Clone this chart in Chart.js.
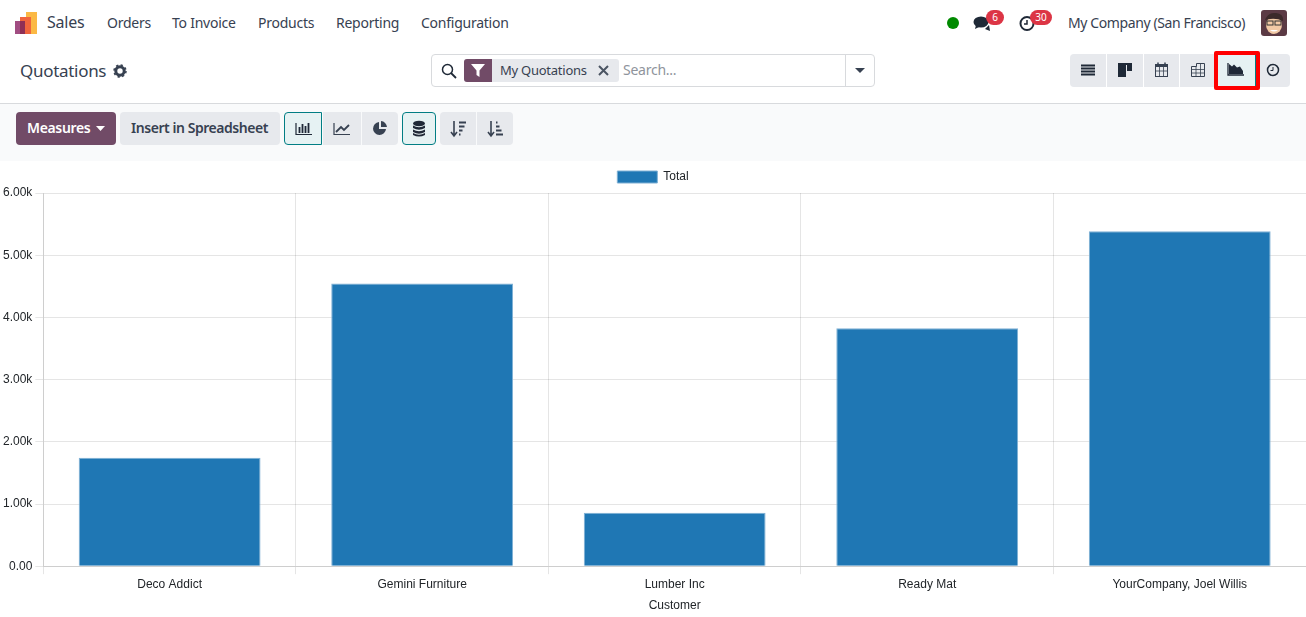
<!DOCTYPE html>
<html>
<head>
<meta charset="utf-8">
<title>Quotations</title>
<script src="https://cdn.jsdelivr.net/npm/chart.js@4"></script>
<style>
  html, body { margin: 0; padding: 0; background: #fff; }
  body { width: 1306px; height: 617px; position: relative; overflow: hidden; font-family: "Noto Sans", sans-serif; font-size: 14px; color: #374151; }
  .txt { position: absolute; white-space: nowrap; line-height: 20px; letter-spacing: -0.25px; }
  .box { position: absolute; }
  .btn { position: absolute; background: #e7e9ed; box-sizing: border-box; }
  .btn svg, .box svg { position: absolute; left: 0; top: 0; }
  #toolbar { position: absolute; left: 0; top: 103px; width: 1306px; height: 58px; background: #f9fafb; border-top: 1px solid #d8dadd; box-sizing: border-box; }
  #chartWrap { position: absolute; left: 0; top: 161px; width: 1306px; height: 456px; }
  .badge { position: absolute; background: #dc3545; color: #fff; font-size: 10px; line-height: 15px; height: 15px; border-radius: 8px; text-align: center; }
  .on { background: #e6f2f3; border: 1px solid #017e84; }
</style>
</head>
<body>

<!-- navbar -->
<svg class="box" style="left:14px;top:11px" width="24" height="24">
  <rect x="12" y="1" width="11" height="22" fill="#fbb945"/>
  <rect x="6" y="6" width="11" height="17" fill="#f0653d"/>
  <rect x="1" y="10" width="10" height="13" fill="#a14d82"/>
  <rect x="6" y="10" width="5" height="13" fill="#8f2f55"/>
</svg>
<div class="txt" style="left:47px;top:12px;font-size:16px;">Sales</div>
<div class="txt" style="left:107px;top:13px;">Orders</div>
<div class="txt" style="left:172px;top:13px;">To Invoice</div>
<div class="txt" style="left:258px;top:13px;">Products</div>
<div class="txt" style="left:336px;top:13px;">Reporting</div>
<div class="txt" style="left:421px;top:13px;">Configuration</div>

<div class="box" style="left:947px;top:17px;width:12px;height:12px;border-radius:6px;background:#008a00"></div>
<svg class="box" style="left:973px;top:15px" width="20" height="17">
  <ellipse cx="8" cy="7" rx="7.5" ry="5.5" fill="#1f2937"/>
  <path d="M3 10 L2 14 L8 11Z" fill="#1f2937"/>
  <path d="M12 14 L17 16 L16 10Z" fill="#1f2937"/>
</svg>
<div class="badge" style="left:986px;top:10px;width:18px;">6</div>
<svg class="box" style="left:1019px;top:15px" width="18" height="17">
  <circle cx="8" cy="8.500" r="6.500" fill="none" stroke="#1f2937" stroke-width="2"/>
  <path d="M8 5 V9 H5" fill="none" stroke="#1f2937" stroke-width="1.500"/>
</svg>
<div class="badge" style="left:1030px;top:10px;width:22px;">30</div>
<div class="txt" style="left:1068px;top:13px;letter-spacing:-0.4px;">My Company (San Francisco)</div>
<svg class="box" style="left:1261px;top:10px" width="26" height="26">
  <rect width="26" height="26" rx="3" fill="#5b3a44"/>
  <ellipse cx="13" cy="15" rx="8" ry="9" fill="#f2c9a5"/>
  <path d="M4 10 Q7 2 15 3 Q23 4 22 11 Q14 7 4 10Z" fill="#3c2a2a"/>
  <rect x="6" y="11" width="6" height="4" fill="none" stroke="#333"/>
  <rect x="14" y="11" width="6" height="4" fill="none" stroke="#333"/>
  <path d="M9 20 Q13 23 17 20Z" fill="#fff"/>
</svg>

<!-- control panel -->
<div class="txt" style="left:20px;top:61px;font-size:17px;letter-spacing:-0.3px;">Quotations</div>
<svg class="box" style="left:113px;top:64px" width="14" height="14">
  <circle cx="7" cy="7" r="4.200" fill="none" stroke="#374151" stroke-width="3"/>
  <circle cx="7" cy="7" r="6" fill="none" stroke="#374151" stroke-width="1.500" stroke-dasharray="2.300 2.400"/>
</svg>

<div class="box" style="left:431px;top:54px;width:444px;height:33px;border:1px solid #d8dadd;border-radius:4px;box-sizing:border-box;"></div>
<div class="box" style="left:845px;top:55px;width:1px;height:31px;background:#d8dadd;"></div>
<svg class="box" style="left:441px;top:63px" width="16" height="16">
  <circle cx="6.500" cy="6.500" r="5" fill="none" stroke="#1f2937" stroke-width="1.500"/>
  <path d="M10 10 L15 15" stroke="#1f2937" stroke-width="1.800"/>
</svg>
<div class="box" style="left:464px;top:59px;width:155px;height:23px;background:#e7e9ed;border-radius:3px;"></div>
<div class="box" style="left:464px;top:59px;width:28px;height:23px;background:#714b67;border-radius:3px 0 0 3px;"></div>
<svg class="box" style="left:471px;top:64px" width="14" height="13">
  <path d="M0 0 H14 L8.500 6.500 V13 L5.500 11 V6.500Z" fill="#fff"/>
</svg>
<div class="txt" style="left:500px;top:60px;font-size:13px;">My Quotations</div>
<svg class="box" style="left:598px;top:65px" width="11" height="11">
  <path d="M1 1 L10 10 M10 1 L1 10" stroke="#4b5563" stroke-width="2"/>
</svg>
<div class="txt" style="left:623px;top:60px;color:#8f949c;">Search...</div>
<svg class="box" style="left:855px;top:68px" width="10" height="6"><path d="M0 0 H10 L5 5Z" fill="#374151"/></svg>

<!-- view switcher -->
<div class="btn" style="left:1070px;top:54px;width:36px;height:33px;border-radius:4px 0 0 4px;">
  <svg width="36" height="33"><path d="M11 11.500 H25 M11 14.500 H25 M11 17.500 H25 M11 20.500 H25" stroke="#1f2937" stroke-width="2"/></svg>
</div>
<div class="btn" style="left:1107px;top:54px;width:36px;height:33px;">
  <svg width="36" height="33"><rect x="11" y="9" width="14" height="2" fill="#1f2937"/><rect x="11" y="11" width="8" height="12" fill="#1f2937"/><rect x="20" y="11" width="5" height="6" fill="#1f2937"/></svg>
</div>
<div class="btn" style="left:1144px;top:54px;width:35px;height:33px;">
  <svg width="35" height="33"><rect x="11.500" y="10.500" width="12" height="12" fill="none" stroke="#374151"/><rect x="11" y="10" width="13" height="3" fill="#374151"/><path d="M14 8.500 V12 M21 8.500 V12" stroke="#374151" stroke-width="1.500"/><path d="M11.500 17 H23.500 M15.500 13 V22 M19.500 13 V22" stroke="#374151" stroke-width="0.800"/></svg>
</div>
<div class="btn" style="left:1180px;top:54px;width:35px;height:33px;">
  <svg width="35" height="33"><path d="M11.500 22.500 V12.500 H16.500 V9.500 H24.500 V22.500Z" fill="none" stroke="#374151"/><path d="M11.500 15.500 H24.500 M11.500 19 H24.500 M16 12.500 V22.500 M20.500 9.500 V22.500" stroke="#374151" stroke-width="0.800"/></svg>
</div>
<div class="btn on" style="left:1216px;top:54px;width:40px;height:33px;border-width:0 1px 0 0;">
  <svg width="40" height="33"><path d="M13 20 V10 L16 12.500 L18 10.500 L21 13.500 L24 12.500 L27 17 V20Z" fill="#1f2937"/><path d="M12 9 V21 H28" fill="none" stroke="#1f2937" stroke-width="1.300"/></svg>
</div>
<div class="btn" style="left:1256px;top:54px;width:34px;height:33px;border-radius:0 4px 4px 0;">
  <svg width="34" height="33"><circle cx="17" cy="16" r="5.500" fill="none" stroke="#1f2937" stroke-width="1.500"/><path d="M17 13 V16.500 H14.500" fill="none" stroke="#1f2937"/></svg>
</div>
<div class="box" style="left:1214px;top:51px;width:46px;height:39px;border:4px solid #f00;border-radius:2px;box-sizing:border-box;"></div>

<!-- toolbar -->
<div id="toolbar"></div>
<div class="btn" style="left:16px;top:112px;width:100px;height:33px;background:#714b67;border-radius:4px;"></div>
<div class="txt" style="left:27px;top:118px;color:#fff;font-weight:600;letter-spacing:-0.35px;">Measures</div>
<svg class="box" style="left:96px;top:126px" width="10" height="6"><path d="M0 0 H9 L4.500 5Z" fill="#fff"/></svg>
<div class="btn" style="left:120px;top:112px;width:160px;height:33px;border-radius:4px;"></div>
<div class="txt" style="left:131px;top:118px;font-weight:600;letter-spacing:-0.45px;">Insert in Spreadsheet</div>

<div class="btn on" style="left:284px;top:112px;width:38px;height:33px;border-radius:4px 0 0 4px;">
  <svg width="36" height="31"><path d="M11 10 V21.500 H27" fill="none" stroke="#1f2937" stroke-width="1.200"/><path d="M14.500 14 V20 M17.500 11 V20 M20.500 13 V20 M23.500 10 V20" stroke="#1f2937" stroke-width="1.800"/></svg>
</div>
<div class="btn" style="left:323px;top:112px;width:38px;height:33px;">
  <svg width="38" height="33"><path d="M11 11 V22.500 H27" fill="none" stroke="#374151" stroke-width="1.200"/><path d="M13 20 L18 15 L21 18 L26 13" fill="none" stroke="#374151" stroke-width="1.800"/></svg>
</div>
<div class="btn" style="left:362px;top:112px;width:36px;height:33px;border-radius:0 4px 4px 0;">
  <svg width="36" height="33"><path d="M17 10 A6.500 6.500 0 1 0 24 17 H17Z" fill="#374151"/><path d="M19 9 A6.500 6.500 0 0 1 25 15 H19Z" fill="#374151"/></svg>
</div>
<div class="btn on" style="left:402px;top:112px;width:34px;height:33px;border-radius:4px;">
  <svg width="32" height="31"><ellipse cx="16" cy="10.500" rx="6" ry="2.800" fill="#1f2937"/><path d="M10 12.500 V15 Q16 18.500 22 15 V12.500 Q16 16 10 12.500Z M10 16.500 V19 Q16 22.500 22 19 V16.500 Q16 20 10 16.500Z M10 20 V22 Q16 25 22 22 V20 Q16 23.500 10 20Z" fill="#1f2937"/></svg>
</div>
<div class="btn" style="left:440px;top:112px;width:36px;height:33px;border-radius:4px 0 0 4px;">
  <svg width="36" height="33"><path d="M14 9 V23 M11 20 L14 24 L17 20" fill="none" stroke="#374151" stroke-width="1.600"/><path d="M19 10.500 H26 M19 14.500 H24.500 M19 18.500 H22.500 M19 22.500 H20.500" stroke="#374151" stroke-width="1.800"/></svg>
</div>
<div class="btn" style="left:477px;top:112px;width:36px;height:33px;border-radius:0 4px 4px 0;">
  <svg width="36" height="33"><path d="M14 9 V23 M11 20 L14 24 L17 20" fill="none" stroke="#374151" stroke-width="1.600"/><path d="M19 10.500 H20.500 M19 14.500 H22.500 M19 18.500 H24.500 M19 22.500 H26" stroke="#374151" stroke-width="1.800"/></svg>
</div>

<!-- chart -->
<div id="chartWrap"><canvas id="chart1"></canvas></div>

<script>
  var customers = ['Deco Addict', 'Gemini Furniture', 'Lumber Inc', 'Ready Mat', 'YourCompany, Joel Willis'];
  var totals = [1745, 4545, 860, 3825, 5385];
  var yTickLabels = ['0.00', '1.00k', '2.00k', '3.00k', '4.00k', '5.00k', '6.00k'];

  var ctx = document.getElementById('chart1').getContext('2d');
  var textColor = '#212529';
  Chart.defaults.font.family = '"Liberation Sans", Arial, sans-serif';
  Chart.defaults.font.size = 12;
  Chart.defaults.color = textColor;

  var myChart = new Chart(ctx, {
    type: 'bar',
    data: {
      labels: customers,
      datasets: [{
        label: 'Total',
        data: totals,
        backgroundColor: '#1f77b4',
        borderColor: '#7fb0d4',
        borderWidth: 1
      }]
    },
    options: {
      responsive: true,
      maintainAspectRatio: false,
      animation: false,
      plugins: {
        legend: {
          position: 'top'
        },
        tooltip: { enabled: false }
      },
      scales: {
        x: {
          title: { display: true, text: 'Customer', color: textColor },
          ticks: { color: textColor, maxRotation: 0 }
        },
        y: {
          min: 0,
          max: 6000,
          ticks: {
            stepSize: 1000,
            color: textColor,
            callback: function (value, index) {
              return yTickLabels[index];
            }
          }
        }
      }
    }
  });
</script>
</body>
</html>
